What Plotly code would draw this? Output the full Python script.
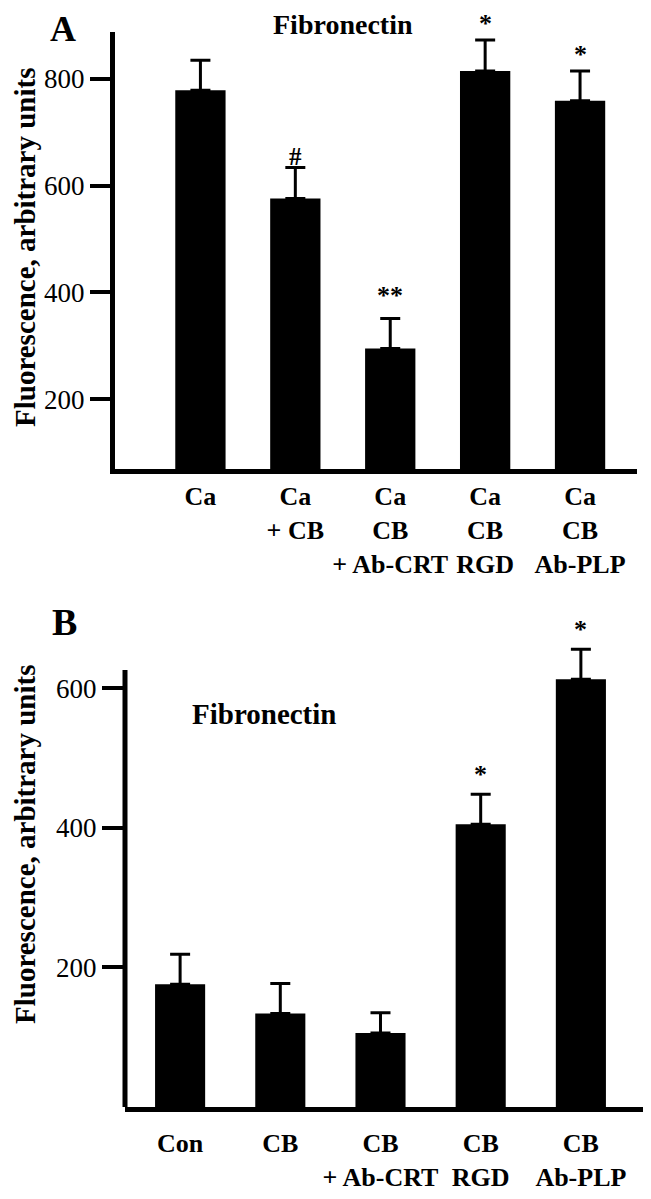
import plotly.graph_objects as go

# panel A
a_labels = ["Ca", "Ca<br>+ CB", "Ca<br>CB<br>+ Ab-CRT", "Ca<br>CB<br>RGD", "Ca<br>CB<br>Ab-PLP"]
a_values = [779, 576, 295, 815, 759]
a_errors = [56, 58, 56, 58, 56]
a_marks = ["", "#", "**", "*", "*"]
a_ticks = [200, 400, 600, 800]

# panel B
b_labels = ["Con", "CB", "CB<br>+ Ab-CRT", "CB<br>RGD", "CB<br>Ab-PLP"]
b_values = [176, 134, 106, 405, 613]
b_errors = [43, 43, 29, 43, 43]
b_marks = ["", "", "", "*", "*"]
b_ticks = [200, 400, 600]

# page body has an 8px margin, so the figure is 16px smaller than the window
PAD = 8
W, H = 651 - 2 * PAD, 1199 - 2 * PAD
FONT = "Liberation Serif"


def px(x):
    return min(1, max(0, (x - PAD) / W))


def py(y):
    return min(1, max(0, 1 - (y - PAD) / H))


def bar(labels, values, errors, xa, ya, width):
    return go.Bar(
        x=labels, y=values, xaxis=xa, yaxis=ya, width=width,
        marker=dict(color="black", line=dict(width=0)),
        error_y=dict(type="data", array=errors, arrayminus=[0] * len(errors),
                     symmetric=False, color="black", thickness=3, width=10),
        showlegend=False,
    )


fig = go.Figure()
fig.add_trace(bar(a_labels, a_values, a_errors, "x", "y", 0.53))
fig.add_trace(bar(b_labels, b_values, b_errors, "x2", "y2", 0.5))

xfont = dict(family=FONT, size=26, color="black")
yfont = dict(family=FONT, size=27, color="black")
axis_common = dict(showgrid=False, zeroline=False, linecolor="black", linewidth=5,
                   tickcolor="black", automargin=False, tickprefix="<b>", ticksuffix="</b>")

fig.update_layout(
    template="none",
    width=W, height=H,
    margin=dict(l=0, r=0, t=0, b=0, autoexpand=False),
    plot_bgcolor="white", paper_bgcolor="white",
    font=dict(family=FONT, color="black"),
    xaxis=dict(domain=[px(115), px(637)], anchor="y", type="category",
               range=[-0.9, 4.6], showline=True, ticks="", tickfont=xfont,
               ticklabelstandoff=0, **axis_common),
    yaxis=dict(domain=[py(469), py(32)], anchor="x", range=[69, 888],
               tickvals=a_ticks, showline=True, ticks="outside", ticklen=20,
               tickwidth=4, tickfont=yfont, **axis_common),
    xaxis2=dict(domain=[px(125), px(643)], anchor="y2", type="category",
                range=[-0.55, 4.62], showline=True, ticks="", tickfont=xfont,
                ticklabelstandoff=9, **axis_common),
    yaxis2=dict(domain=[py(1107), py(632.4)], anchor="x2", range=[0, 680],
                tickvals=b_ticks, showline=False, ticks="outside", ticklen=22,
                tickwidth=4, tickfont=yfont, **axis_common),
)

# B panel's y axis line stops below the top of the plot area
fig.add_shape(type="line", xref="x2 domain", yref="y2", x0=0, x1=0, y0=0, y1=626,
              line=dict(color="black", width=5))

a_shift = {"*": 0, "#": -4, "**": 7}
ann = []
for lab, v, e, m in zip(a_labels, a_values, a_errors, a_marks):
    if m:
        ann.append(dict(x=lab, y=v + e, xref="x", yref="y", text="<b>" + m + "</b>",
                        showarrow=False, yanchor="bottom", yshift=a_shift[m],
                        font=dict(family=FONT, size=25 if m == "#" else 26, color="black")))
for lab, v, e, m in zip(b_labels, b_values, b_errors, b_marks):
    if m:
        ann.append(dict(x=lab, y=v + e, xref="x2", yref="y2", text="<b>" + m + "</b>",
                        showarrow=False, yanchor="bottom", yshift=3,
                        font=dict(family=FONT, size=26, color="black")))

bold = dict(family=FONT, color="black")
paper = dict(xref="paper", yref="paper", showarrow=False, xanchor="center", yanchor="middle")
top = dict(xref="paper", yref="paper", showarrow=False, xanchor="center", yanchor="top",
           borderpad=0)
ann += [
    dict(x=px(63), y=1, text="<b>A</b>", font=dict(size=36, **bold), **top),
    dict(x=px(64), y=py(622), text="<b>B</b>", font=dict(size=38, **bold), **paper),
    dict(x=px(343), y=1, text="<b>Fibronectin</b>", font=dict(size=28, **bold), **top),
    dict(x=px(264), y=py(714), text="<b>Fibronectin</b>", font=dict(size=29, **bold), **paper),
    dict(x=px(25), y=py(248), textangle=-90, text="<b>Fluorescence, arbitrary units</b>",
         font=dict(size=29, **bold), **paper),
    dict(x=px(25), y=py(845), textangle=-90, text="<b>Fluorescence, arbitrary units</b>",
         font=dict(size=29, **bold), **paper),
]
fig.update_layout(annotations=ann)

fig.write_html("out.html")
